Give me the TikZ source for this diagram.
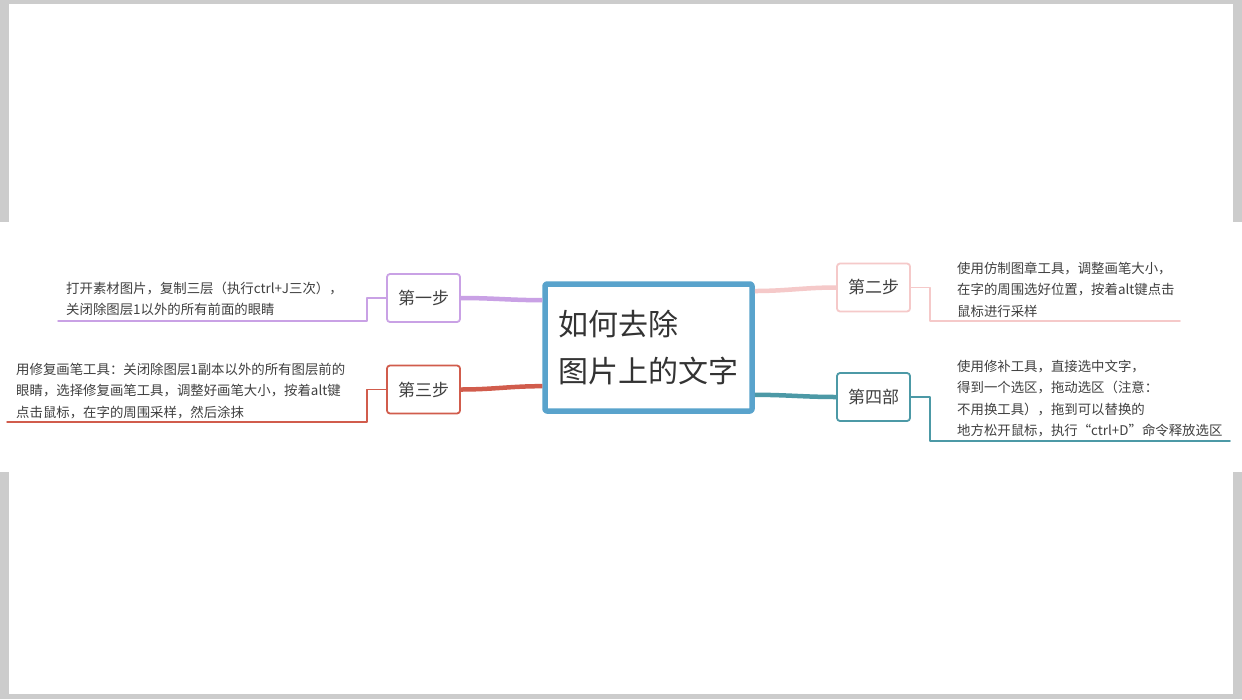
\documentclass[tikz,border=0pt]{standalone}
\usepackage{fontspec}
\setmainfont{Noto Sans CJK SC}
\usepackage{tikz}
\definecolor{cdcdcd}{rgb}{0.80,0.80,0.80}
\definecolor{ccaaee}{rgb}{0.79,0.63,0.90}
\definecolor{cc5a4a}{rgb}{0.82,0.36,0.30}
\definecolor{f4c8c8}{rgb}{0.96,0.79,0.79}
\definecolor{qq9aa6}{rgb}{0.30,0.60,0.65}
\definecolor{qqa5cb}{rgb}{0.35,0.64,0.80}

\begin{document}
\begin{tikzpicture}[line cap=round,line join=round,x=1pt,y=-1pt,
  stepbox/.style={draw,line width=1.8pt,rounded corners=3pt,fill=white,minimum width=73pt,minimum height=48pt,inner sep=0pt,font=\fontsize{17}{20}\selectfont,text=black!75},
  notes/.style={anchor=north west,inner sep=0pt,align=left,font=\fontsize{13.4}{21.3}\selectfont,text=black!75},
  branch/.style={line width=4.5pt,line cap=butt},
  twig/.style={line width=1.5pt}]
\useasboundingbox (0,0) rectangle (1242,699);
\fill [cdcdcd] (0,0) rectangle (1242,699);
\fill [white] (9,4) rectangle (1233,694);
\fill [white] (0,222) rectangle (1242,472);
% centre
\node [draw=qqa5cb,line width=5.5pt,rounded corners=2pt,minimum width=207pt,minimum height=127pt,inner sep=0pt,align=left,font=\fontsize{30}{47}\selectfont,text=black!80] (main) at (648.5,347.5) {如何去除\\图片上的文字};
% steps
\node [stepbox,draw=ccaaee] (s1) at (423.5,298) {第一步};
\node [stepbox,draw=cc5a4a] (s3) at (423.5,389.5) {第三步};
\node [stepbox,draw=f4c8c8] (s2) at (873.5,287.5) {第二步};
\node [stepbox,draw=qq9aa6] (s4) at (873.5,397) {第四部};
\draw [branch,ccaaee] (main.156) to[out=180,in=0] (s1.east);
\draw [branch,cc5a4a] (main.200) to[out=180,in=0] (s3.east);
\draw [branch,f4c8c8] (main.28) to[out=0,in=180] (s2.west);
\draw [branch,qq9aa6] (main.336) to[out=0,in=180] (s4.west);
% notes
\coordinate (e1) at (58,321);
\coordinate (e3) at (7,422);
\coordinate (e2) at (1180,321);
\coordinate (e4) at (1230,441);
\draw [twig,ccaaee] (s1.west) -- ++(-19,0) |- (e1);
\draw [twig,cc5a4a] (s3.west) -- ++(-19,0) |- (e3);
\draw [twig,f4c8c8] (s2.east) -- ++(19,0) |- (e2);
\draw [twig,qq9aa6] (s4.east) -- ++(19,0) |- (e4);
\node [notes] (n1) at (66,282) {打开素材图片，复制三层（执行ctrl+J三次），\\关闭除图层1以外的所有前面的眼睛};
\node [notes] (n3) at (16,363) {用修复画笔工具：关闭除图层1副本以外的所有图层前的\\眼睛，选择修复画笔工具，调整好画笔大小，按着alt键\\点击鼠标，在字的周围采样，然后涂抹};
\node [notes] (n2) at (957,262) {使用仿制图章工具，调整画笔大小，\\在字的周围选好位置，按着alt键点击\\鼠标进行采样};
\node [notes] (n4) at (957,360) {使用修补工具，直接选中文字，\\得到一个选区，拖动选区（注意：\\不用换工具），拖到可以替换的\\地方松开鼠标，执行“ctrl+D”命令释放选区};
\end{tikzpicture}
\end{document}
